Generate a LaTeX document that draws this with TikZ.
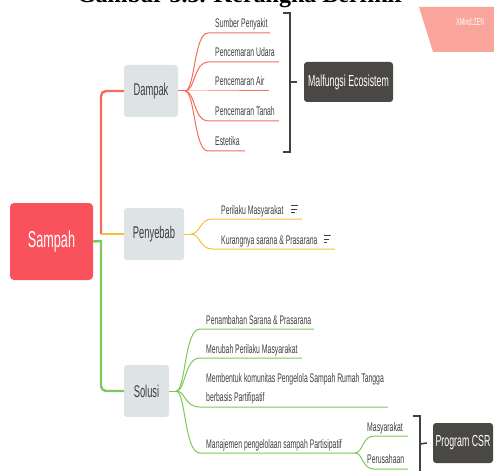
\documentclass[tikz,border=0pt]{standalone}
\usepackage{fontspec}
\setmainfont[FakeStretch=0.55]{Liberation Sans}
\newfontfamily\captionfont{Liberation Serif}
\usepackage{tikz}
\usetikzlibrary{positioning,calc}

\definecolor{dampakred}{RGB}{244,108,92}
\definecolor{sebaborange}{RGB}{247,190,60}
\definecolor{solusigreen}{RGB}{125,200,90}
\definecolor{sampahred}{RGB}{249,82,92}
\definecolor{topicgray}{RGB}{222,227,229}
\definecolor{summarydark}{RGB}{74,72,68}
\definecolor{bracegray}{RGB}{60,66,72}
\definecolor{inkgray}{RGB}{62,62,62}
\definecolor{wmpink}{RGB}{250,165,155}

\begin{document}
\begin{tikzpicture}[
			x = 1pt, y = -1pt,
			central/.style = {rounded corners=4pt, fill=sampahred, text=white, inner sep=0pt,
				minimum width=83pt, minimum height=77pt, font=\fontsize{23}{25}\selectfont},
			topic/.style = {rounded corners=3pt, fill=topicgray, text=inkgray, inner sep=0pt,
				minimum height=52pt, font=\fontsize{17}{19}\selectfont},
			summary/.style = {rounded corners=3pt, fill=summarydark, text=white, inner sep=0pt,
				minimum height=40pt, font=\fontsize{16}{18}\selectfont},
			leaf/.style = {anchor=base west, inner sep=0pt, text=inkgray, font=\fontsize{12.5}{18.5}\selectfont},
			trunk/.style = {line width=2.4pt},
			twig/.style = {line width=1pt},
			brace/.style = {draw=bracegray, line width=1.6pt},
			noteicon/.style = {inner sep=0pt, minimum width=7pt, minimum height=9pt,
				path picture={
					\draw[inkgray, line width=.9pt] ($(path picture bounding box.north west)+(0,1)$) -- ++(7,0);
					\draw[inkgray, line width=.9pt] ($(path picture bounding box.west)$) -- ++(5.5,0);
					\draw[inkgray, line width=.9pt] ($(path picture bounding box.south west)+(0,-1)$) -- ++(3.5,0);
				}}
		]

			\useasboundingbox (0,0) rectangle (494,470);
			\clip (0,0) rectangle (494,470);

			% caption (cut off) and watermark
			\node[anchor=base, inner sep=0pt, text=black, font=\captionfont\bfseries\fontsize{24}{26}\selectfont] (caption) at (241,3) {Gambar 3.3. Kerangka Berfikir};
			\fill[wmpink] (419,7) -- (500,7) -- (500,52) -- (433,52) -- cycle;
			\node[anchor=west, inner sep=0pt, text=white, font=\fontsize{10}{11}\selectfont] (wm) at (456,22) {XMind:ZEN};

			% main topics
			\node[central] (sampah) at (51.5,241.5) {Sampah};
			\node[topic, minimum width=54pt] (dampak) at (151,91) {Dampak};
			\node[topic, minimum width=60pt] (penyebab) at (154,234) {Penyebab};
			\node[topic, minimum width=45pt] (solusi) at (146.5,391) {Solusi};

			\coordinate (hub) at (101,241);
			\draw[trunk, solusigreen] (sampah.east) -- (hub) [rounded corners=5pt] -- (101,391) -- (solusi.west);
			\draw[trunk, dampakred, rounded corners=5pt] (101,234) -- (101,91) -- (dampak.west);
			\draw[trunk, sebaborange] (101,234) -- (penyebab.west);

			% Dampak
			\coordinate (dj) at (185,91);
			\draw[twig, dampakred] (dampak.east) -- (dj);
			\coordinate (d1) at (208,33);  \coordinate (d1e) at (270,33);
			\coordinate (d2) at (208,62);  \coordinate (d2e) at (279,62);
			\coordinate (d3) at (208,91);  \coordinate (d3e) at (269,91);
			\coordinate (d4) at (208,121); \coordinate (d4e) at (279,121);
			\coordinate (d5) at (208,151); \coordinate (d5e) at (245,151);
			\draw[twig, dampakred] (dj) .. controls +(10,0) and +(-14,0) .. (d1) -- (d1e);
			\draw[twig, dampakred] (dj) .. controls +(10,0) and +(-14,0) .. (d2) -- (d2e);
			\draw[twig, dampakred] (dj) -- (d3) -- (d3e);
			\draw[twig, dampakred] (dj) .. controls +(10,0) and +(-14,0) .. (d4) -- (d4e);
			\draw[twig, dampakred] (dj) .. controls +(10,0) and +(-14,0) .. (d5) -- (d5e);
			\node[leaf] (sumber) at (215,28) {Sumber Penyakit};
			\node[leaf] (udara) at (215,57) {Pencemaran Udara};
			\node[leaf] (air) at (215,86) {Pencemaran Air};
			\node[leaf] (tanah) at (215,116) {Pencemaran Tanah};
			\node[leaf] (estetika) at (215,146) {Estetika};

			\node[summary, minimum width=89pt] (malfungsi) at (348.5,82) {Malfungsi Ecosistem};
			\draw[brace] (283,13) -- (290,13) -- (290,152) -- (283,152);
			\draw[brace] (290,82) -- ($(malfungsi.west)+(-7,0)$);

			% Penyebab
			\coordinate (pj) at (191,234);
			\draw[twig, sebaborange] (penyebab.east) -- (pj);
			\coordinate (p1) at (212,219); \coordinate (p1e) at (302,219);
			\coordinate (p2) at (212,249); \coordinate (p2e) at (335,249);
			\draw[twig, sebaborange] (pj) .. controls +(9,0) and +(-12,0) .. (p1) -- (p1e);
			\draw[twig, sebaborange] (pj) .. controls +(9,0) and +(-12,0) .. (p2) -- (p2e);
			\node[leaf] (perilaku) at (221,214) {Perilaku Masyarakat};
			\node[leaf] (kurang) at (221,244) {Kurangnya sarana \& Prasarana};
			\node[noteicon] (note1) at (294.5,209) {};
			\node[noteicon] (note2) at (327,239) {};

			% Solusi
			\coordinate (sj) at (176,391);
			\draw[twig, solusigreen] (solusi.east) -- (sj);
			\coordinate (s1) at (200,329); \coordinate (s1e) at (314,329);
			\coordinate (s2) at (200,358); \coordinate (s2e) at (302,358);
			\coordinate (s3) at (200,407); \coordinate (s3e) at (388,407);
			\coordinate (s4) at (200,453); \coordinate (s4e) at (355,453);
			\draw[twig, solusigreen] (sj) .. controls +(10,0) and +(-16,0) .. (s1) -- (s1e);
			\draw[twig, solusigreen] (sj) .. controls +(10,0) and +(-16,0) .. (s2) -- (s2e);
			\draw[twig, solusigreen] (sj) .. controls +(10,0) and +(-16,0) .. (s3) -- (s3e);
			\draw[twig, solusigreen] (sj) .. controls +(10,0) and +(-16,0) .. (s4) -- (s4e);
			\node[leaf] (penambahan) at (206,324) {Penambahan Sarana \& Prasarana};
			\node[leaf] (merubah) at (206,353) {Merubah Perilaku Masyarakat};
			\node[leaf, align=left] (komunitas) at (206,401) {Membentuk komunitas Pengelola Sampah Rumah Tangga\\berbasis Partifipatif};
			\node[leaf] (manajemen) at (206,448) {Manajemen pengelolaan sampah Partisipatif};

			\coordinate (m1) at (374,436); \coordinate (m1e) at (408,436);
			\coordinate (m2) at (374,469); \coordinate (m2e) at (408,469);
			\draw[twig, solusigreen] (s4e) .. controls +(8,0) and +(-12,0) .. (m1) -- (m1e);
			\draw[twig, solusigreen] (s4e) .. controls +(8,0) and +(-12,0) .. (m2) -- (m2e);
			\node[leaf] (masyarakat) at (367,431) {Masyarakat};
			\node[leaf] (perusahaan) at (367,463) {Perusahaan};

			\node[summary, minimum width=60pt] (csr) at (463,443) {Program CSR};
			\draw[brace] (413,416) -- (420,416) -- (420,480);
			\draw[brace] (420,444) -- ($(csr.west)+(-6,0)$);

		\end{tikzpicture}
\end{document}
